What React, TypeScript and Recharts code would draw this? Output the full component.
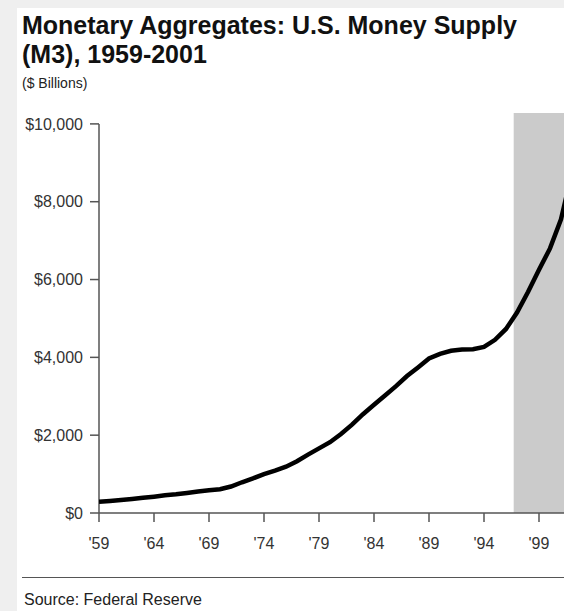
import React from 'react';
import { LineChart, Line, XAxis, YAxis, ReferenceArea, ReferenceLine } from 'recharts';

// M3 money stock, $ billions, year-end readings
const years = [
  1959, 1960, 1961, 1962, 1963, 1964, 1965, 1966, 1967, 1968, 1969, 1970, 1971, 1972,
  1973, 1974, 1975, 1976, 1977, 1978, 1979, 1980, 1981, 1982, 1983, 1984, 1985, 1986,
  1987, 1988, 1989, 1990, 1991, 1992, 1993, 1994, 1995, 1996, 1997, 1998, 1999, 2000,
  2001, 2001.5,
];
const m3Values = [
  290, 310, 335, 360, 390, 420, 455, 480, 515, 555, 585, 610, 680, 790,
  890, 1000, 1090, 1190, 1330, 1500, 1660, 1820, 2030, 2270, 2540, 2780, 3020, 3260,
  3520, 3740, 3970, 4090, 4170, 4200, 4210, 4270, 4450, 4730, 5150, 5680, 6250, 6800,
  7550, 8150,
];
const yTicks = [0, 2000, 4000, 6000, 8000, 10000];
const xTicks = [1959, 1964, 1969, 1974, 1979, 1984, 1989, 1994, 1999];
// shaded span on the right of the plot
const shadeStart = 1996.7;
const shadeEnd = 2002;

const data = years.map((year, i) => ({ year, m3: m3Values[i] }));

const FONT = '"Liberation Sans", Arial, Helvetica, sans-serif';
const AXIS = '#555';

export default function App() {
  return (
    <div
      style={{
        position: 'fixed',
        left: 0,
        top: 0,
        width: 564,
        height: 611,
        overflow: 'hidden',
        background: '#efefef',
        fontFamily: FONT,
      }}
    >
      <div style={{ position: 'absolute', left: 17, top: 8, right: 0, bottom: 0, background: '#fff' }} />
      <div
        style={{
          position: 'absolute',
          left: 22,
          top: 11,
          fontSize: 25,
          lineHeight: '29px',
          fontWeight: 'bold',
          color: '#111',
          whiteSpace: 'nowrap',
        }}
      >
        Monetary Aggregates: U.S. Money Supply
        <br />
        (M3), 1959-2001
      </div>
      <div style={{ position: 'absolute', left: 22, top: 75, fontSize: 14, color: '#222' }}>($ Billions)</div>

      <div style={{ position: 'absolute', left: 0, top: 0 }}>
        <LineChart width={572} height={560} data={data} margin={{ top: 113, right: 0, bottom: 17, left: 19 }}>
          <ReferenceArea
            x1={shadeStart}
            x2={shadeEnd}
            y1={0}
            y2={10280}
            fill="#cbcbcb"
            fillOpacity={1}
            stroke="none"
            ifOverflow="hidden"
          />
          <XAxis
            dataKey="year"
            type="number"
            domain={[1959, 2002]}
            ticks={xTicks}
            interval={0}
            allowDataOverflow
            tickFormatter={(v: number) => `'${String(v).slice(2)}`}
            tick={{ fill: '#333', fontSize: 16, fontFamily: FONT }}
            tickSize={9}
            tickMargin={16}
            height={30}
            stroke={AXIS}
            axisLine={{ stroke: AXIS, strokeWidth: 1.5 }}
            tickLine={{ stroke: AXIS, strokeWidth: 1.5 }}
          />
          <YAxis
            type="number"
            domain={[0, 10280]}
            ticks={yTicks}
            interval={0}
            allowDataOverflow
            width={80}
            tickFormatter={(v: number) => `$${v.toLocaleString('en-US')}`}
            tick={{ fill: '#333', fontSize: 16, fontFamily: FONT }}
            tickSize={9}
            tickMargin={7}
            axisLine={false}
            tickLine={{ stroke: AXIS, strokeWidth: 1.5 }}
          />
          <ReferenceLine
            segment={[
              { x: 1959, y: 0 },
              { x: 1959, y: 10000 },
            ]}
            stroke={AXIS}
            strokeWidth={1.5}
          />
          <Line
            type="linear"
            dataKey="m3"
            stroke="#000"
            strokeWidth={4.5}
            dot={false}
            isAnimationActive={false}
          />
        </LineChart>
      </div>

      <div style={{ position: 'absolute', left: 22, right: 0, top: 577, borderTop: `1.5px solid ${AXIS}` }} />
      <div style={{ position: 'absolute', left: 24, top: 591, fontSize: 16, color: '#222' }}>Source: Federal Reserve</div>
    </div>
  );
}
